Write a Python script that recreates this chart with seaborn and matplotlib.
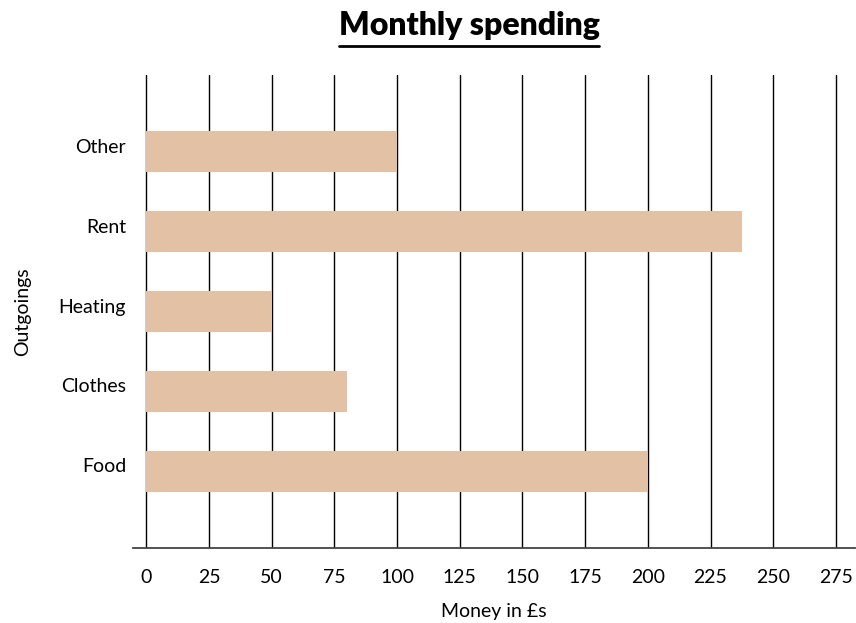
import matplotlib
matplotlib.use("Agg")
import matplotlib.pyplot as plt
import matplotlib.transforms as mtransforms
from matplotlib.lines import Line2D
import seaborn as sns
import pandas as pd

# Chart data
categories = ["Other", "Rent", "Heating", "Clothes", "Food"]
spending = [100, 237.5, 50, 80, 200]
x_ticks = [0, 25, 50, 75, 100, 125, 150, 175, 200, 225, 250, 275]

df = pd.DataFrame({"Outgoings": categories, "Money": spending})

sns.set_style("white")
plt.rcParams["font.family"] = ["Lato", "DejaVu Sans"]
plt.rcParams["text.color"] = "black"
plt.rcParams["axes.labelcolor"] = "black"

W, H = 856, 623
fig = plt.figure(figsize=(W / 100, H / 100), dpi=100)
ax = fig.add_axes([133 / W, 1 - 548 / H, (855 - 133) / W, (548 - 75) / H])

sns.barplot(data=df, x="Money", y="Outgoings", orient="h", color="#e3c1a4",
            saturation=1, width=0.51, linewidth=0, edgecolor="none", ax=ax, zorder=1)

ax.set_xticks(x_ticks)
ax.set_xlim(-5.3, 282.6)
ax.set_ylim(4.96, -0.96)
for t in x_ticks:
    ax.axvline(t, color="black", lw=1, zorder=0)

for s in ["top", "right", "left"]:
    ax.spines[s].set_visible(False)
ax.spines["bottom"].set_color("#444444")
ax.spines["bottom"].set_linewidth(1.3)

ax.tick_params(axis="both", length=0, labelsize=14, colors="black")
ax.tick_params(axis="x", pad=15)
ax.tick_params(axis="y", pad=5)
ax.set_xlabel("Money in £s", fontsize=14, labelpad=12)
ax.set_ylabel("Outgoings", fontsize=14, labelpad=20)

# category labels sit a little above the bar centres
shift = mtransforms.ScaledTranslation(0, 6 / 100, fig.dpi_scale_trans)
for lbl in ax.get_yticklabels():
    lbl.set_transform(lbl.get_transform() + shift)

title = fig.text(469 / W, 1 - 25 / H, "Monthly spending", ha="center", va="center",
                 fontsize=23, fontweight="heavy", color="black")

# underline below the title
fig.canvas.draw()
bb = title.get_window_extent().transformed(fig.transFigure.inverted())
fig.add_artist(Line2D([bb.x0, bb.x1], [1 - 46 / H, 1 - 46 / H],
                      transform=fig.transFigure, color="black", lw=2))

fig.savefig("out.png", dpi=100)
